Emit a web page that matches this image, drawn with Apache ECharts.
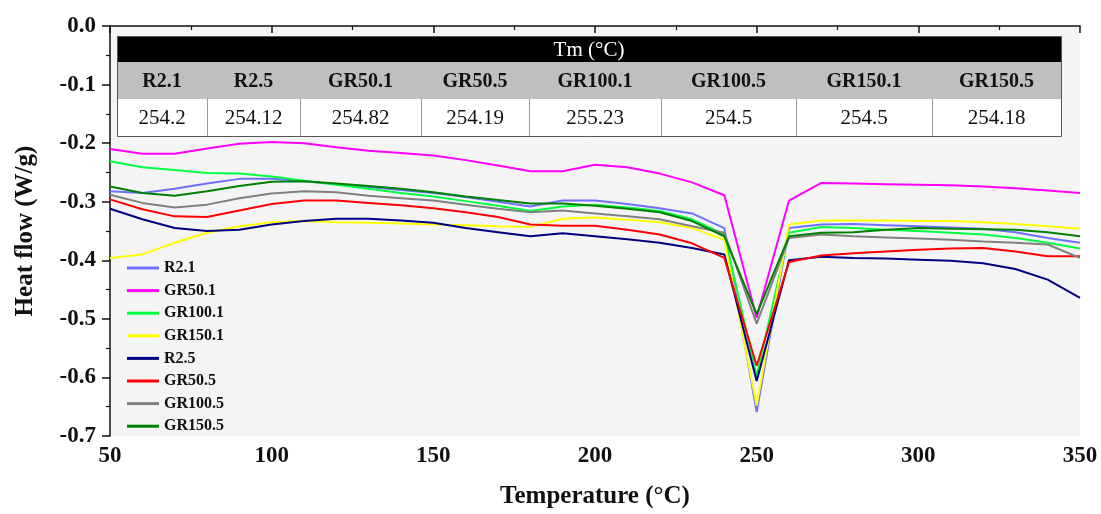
<!DOCTYPE html>
<html>
<head>
<meta charset="utf-8">
<style>
  html, body { margin: 0; padding: 0; background: #fff; }
  #main { width: 1101px; height: 514px; }
</style>
</head>
<body>
<div id="main"></div>
<script src="https://cdn.jsdelivr.net/npm/echarts@6/dist/echarts.min.js"></script>
<script>
// temperatures, every 10 °C
var temps = [50, 60, 70, 80, 90, 100, 110, 120, 130, 140, 150, 160, 170, 180, 190, 200,
             210, 220, 230, 240, 250, 260, 270, 280, 290, 300, 310, 320, 330, 340, 350];

var R2_1 = [-0.282, -0.285, -0.278, -0.269, -0.261, -0.261, -0.265, -0.270, -0.275, -0.280, -0.285,
            -0.292, -0.300, -0.308, -0.298, -0.298, -0.304, -0.311, -0.320, -0.345, -0.659,
            -0.345, -0.339, -0.338, -0.340, -0.342, -0.344, -0.346, -0.352, -0.362, -0.370];
var GR50_1 = [-0.210, -0.218, -0.218, -0.209, -0.201, -0.198, -0.200, -0.207, -0.213, -0.217, -0.221,
              -0.229, -0.238, -0.248, -0.248, -0.237, -0.241, -0.252, -0.267, -0.289, -0.498,
              -0.298, -0.268, -0.269, -0.270, -0.271, -0.272, -0.274, -0.277, -0.281, -0.285];
var GR100_1 = [-0.231, -0.241, -0.246, -0.251, -0.252, -0.257, -0.264, -0.271, -0.278, -0.285, -0.291,
               -0.299, -0.307, -0.316, -0.308, -0.305, -0.310, -0.316, -0.330, -0.356, -0.597,
               -0.353, -0.343, -0.345, -0.348, -0.350, -0.353, -0.356, -0.362, -0.370, -0.380];
var GR150_1 = [-0.396, -0.390, -0.370, -0.353, -0.342, -0.335, -0.333, -0.335, -0.336, -0.337, -0.339,
               -0.340, -0.342, -0.343, -0.329, -0.327, -0.331, -0.335, -0.345, -0.365, -0.648,
               -0.339, -0.332, -0.332, -0.332, -0.333, -0.333, -0.335, -0.338, -0.342, -0.346];
var R2_5 = [-0.312, -0.330, -0.345, -0.350, -0.348, -0.339, -0.333, -0.329, -0.329, -0.332, -0.336,
            -0.345, -0.352, -0.359, -0.354, -0.359, -0.364, -0.370, -0.379, -0.390, -0.606,
            -0.400, -0.394, -0.396, -0.397, -0.399, -0.401, -0.405, -0.415, -0.433, -0.464];
var GR50_5 = [-0.296, -0.313, -0.325, -0.326, -0.315, -0.304, -0.298, -0.298, -0.302, -0.306, -0.311,
              -0.318, -0.326, -0.339, -0.341, -0.341, -0.348, -0.356, -0.371, -0.396, -0.580,
              -0.403, -0.392, -0.388, -0.385, -0.382, -0.380, -0.379, -0.385, -0.393, -0.393];
var GR100_5 = [-0.288, -0.302, -0.310, -0.305, -0.294, -0.286, -0.282, -0.284, -0.290, -0.294, -0.298,
               -0.305, -0.312, -0.318, -0.315, -0.320, -0.325, -0.330, -0.342, -0.353, -0.508,
               -0.362, -0.356, -0.359, -0.361, -0.363, -0.365, -0.368, -0.370, -0.373, -0.396];
var GR150_5 = [-0.274, -0.285, -0.290, -0.282, -0.273, -0.266, -0.265, -0.269, -0.273, -0.278, -0.284,
               -0.291, -0.297, -0.303, -0.303, -0.307, -0.312, -0.318, -0.333, -0.359, -0.492,
               -0.359, -0.353, -0.352, -0.348, -0.345, -0.346, -0.347, -0.348, -0.352, -0.359];

var seriesNames = ['R2.1', 'GR50.1', 'GR100.1', 'GR150.1', 'R2.5', 'GR50.5', 'GR100.5', 'GR150.5'];
var seriesValues = [R2_1, GR50_1, GR100_1, GR150_1, R2_5, GR50_5, GR100_5, GR150_5];
var colors = ['#7070ff', '#ff00ff', '#00ff40', '#ffff00', '#000080', '#ff0000', '#808080', '#008000'];

// Tm table
var tableTitle = 'Tm (°C)';
var tableLabels = ['R2.1', 'R2.5', 'GR50.1', 'GR50.5', 'GR100.1', 'GR100.5', 'GR150.1', 'GR150.5'];
var tableValues = ['254.2', '254.12', '254.82', '254.19', '255.23', '254.5', '254.5', '254.18'];

var FONT = 'Liberation Serif';

// table layout (pixels)
var colEdges = [117, 207, 300, 421, 529, 661, 796, 932, 1061];
var rowTop = 36, rowH1 = 26, rowH2 = 37, rowH3 = 37;

var graphics = [];
var tW = colEdges[colEdges.length - 1] - colEdges[0];
graphics.push({ type: 'rect', shape: { x: colEdges[0], y: rowTop, width: tW, height: rowH1 },
  style: { fill: '#000' }, z: 100 });
graphics.push({ type: 'rect', shape: { x: colEdges[0], y: rowTop + rowH1, width: tW, height: rowH2 },
  style: { fill: '#bfbfbf' }, z: 100 });
graphics.push({ type: 'rect', shape: { x: colEdges[0], y: rowTop + rowH1 + rowH2, width: tW, height: rowH3 },
  style: { fill: '#fff' }, z: 100 });
graphics.push({ type: 'text', x: (colEdges[0] + colEdges[8]) / 2, y: rowTop + rowH1 / 2 + 1, z: 102,
  style: { text: tableTitle, fill: '#fff', font: '21px "' + FONT + '"', align: 'center', verticalAlign: 'middle' } });
tableLabels.forEach(function (lab, i) {
  var cx = (colEdges[i] + colEdges[i + 1]) / 2;
  graphics.push({ type: 'text', x: cx, y: rowTop + rowH1 + rowH2 / 2 + 1, z: 102,
    style: { text: lab, fill: '#111', font: 'bold 20px "' + FONT + '"', align: 'center', verticalAlign: 'middle' } });
  graphics.push({ type: 'text', x: cx, y: rowTop + rowH1 + rowH2 + rowH3 / 2 + 1, z: 102,
    style: { text: tableValues[i], fill: '#111', font: '21px "' + FONT + '"', align: 'center', verticalAlign: 'middle' } });
  if (i > 0) {
    graphics.push({ type: 'line', z: 101,
      shape: { x1: colEdges[i] + 0.5, y1: rowTop + rowH1 + rowH2, x2: colEdges[i] + 0.5, y2: rowTop + rowH1 + rowH2 + rowH3 },
      style: { stroke: '#9a9a9a', lineWidth: 1 } });
  }
});
graphics.push({ type: 'rect', z: 103,
  shape: { x: colEdges[0] + 0.5, y: rowTop + 0.5, width: tW, height: rowH1 + rowH2 + rowH3 },
  style: { fill: 'none', stroke: '#555', lineWidth: 1 } });

var chart = echarts.init(document.getElementById('main'));

chart.setOption({
  animation: false,
  backgroundColor: '#fff',
  grid: { left: 110, right: 21, top: 26, bottom: 77, show: true, backgroundColor: '#f4f4f4', borderWidth: 0 },
  legend: {
    orient: 'vertical',
    left: 122,
    top: 255,
    itemWidth: 32,
    itemHeight: 3,
    itemGap: 6.6,
    icon: 'rect',
    data: seriesNames,
    textStyle: { fontFamily: FONT, fontWeight: 'bold', fontSize: 16, lineHeight: 16, color: '#111' }
  },
  xAxis: {
    type: 'value',
    min: 50, max: 350, interval: 50,
    name: 'Temperature (°C)',
    nameLocation: 'middle',
    nameGap: 48,
    nameTextStyle: { fontFamily: FONT, fontWeight: 'bold', fontSize: 25, color: '#111' },
    axisLine: { lineStyle: { color: '#111', width: 1.5 } },
    axisTick: { show: true, length: 7, lineStyle: { color: '#111', width: 1.5 } },
    minorTick: { show: true, splitNumber: 2, length: 4, lineStyle: { color: '#111', width: 1.2 } },
    splitLine: { show: false },
    axisLabel: { margin: 9, fontFamily: FONT, fontWeight: 'bold', fontSize: 23, color: '#111' }
  },
  yAxis: {
    type: 'value',
    min: -0.7, max: 0, interval: 0.1,
    name: 'Heat flow (W/g)',
    nameLocation: 'middle',
    nameGap: 72,
    nameTextStyle: { fontFamily: FONT, fontWeight: 'bold', fontSize: 25, color: '#111' },
    axisLine: { show: true, lineStyle: { color: '#111', width: 1.5 } },
    axisTick: { show: true, length: 8, lineStyle: { color: '#111', width: 1.5 } },
    minorTick: { show: true, splitNumber: 2, length: 4, lineStyle: { color: '#111', width: 1.2 } },
    splitLine: { show: false },
    axisLabel: {
      margin: 14, fontFamily: FONT, fontWeight: 'bold', fontSize: 23, color: '#111',
      formatter: function (v) { return v.toFixed(1); }
    }
  },
  series: seriesNames.map(function (name, i) {
    return {
      name: name,
      type: 'line',
      symbol: 'none',
      color: colors[i],
      lineStyle: { width: 2, color: colors[i] },
      data: temps.map(function (t, k) { return [t, seriesValues[i][k]]; })
    };
  }),
  graphic: graphics
});

window.onresize = chart.resize;
</script>
</body>
</html>
